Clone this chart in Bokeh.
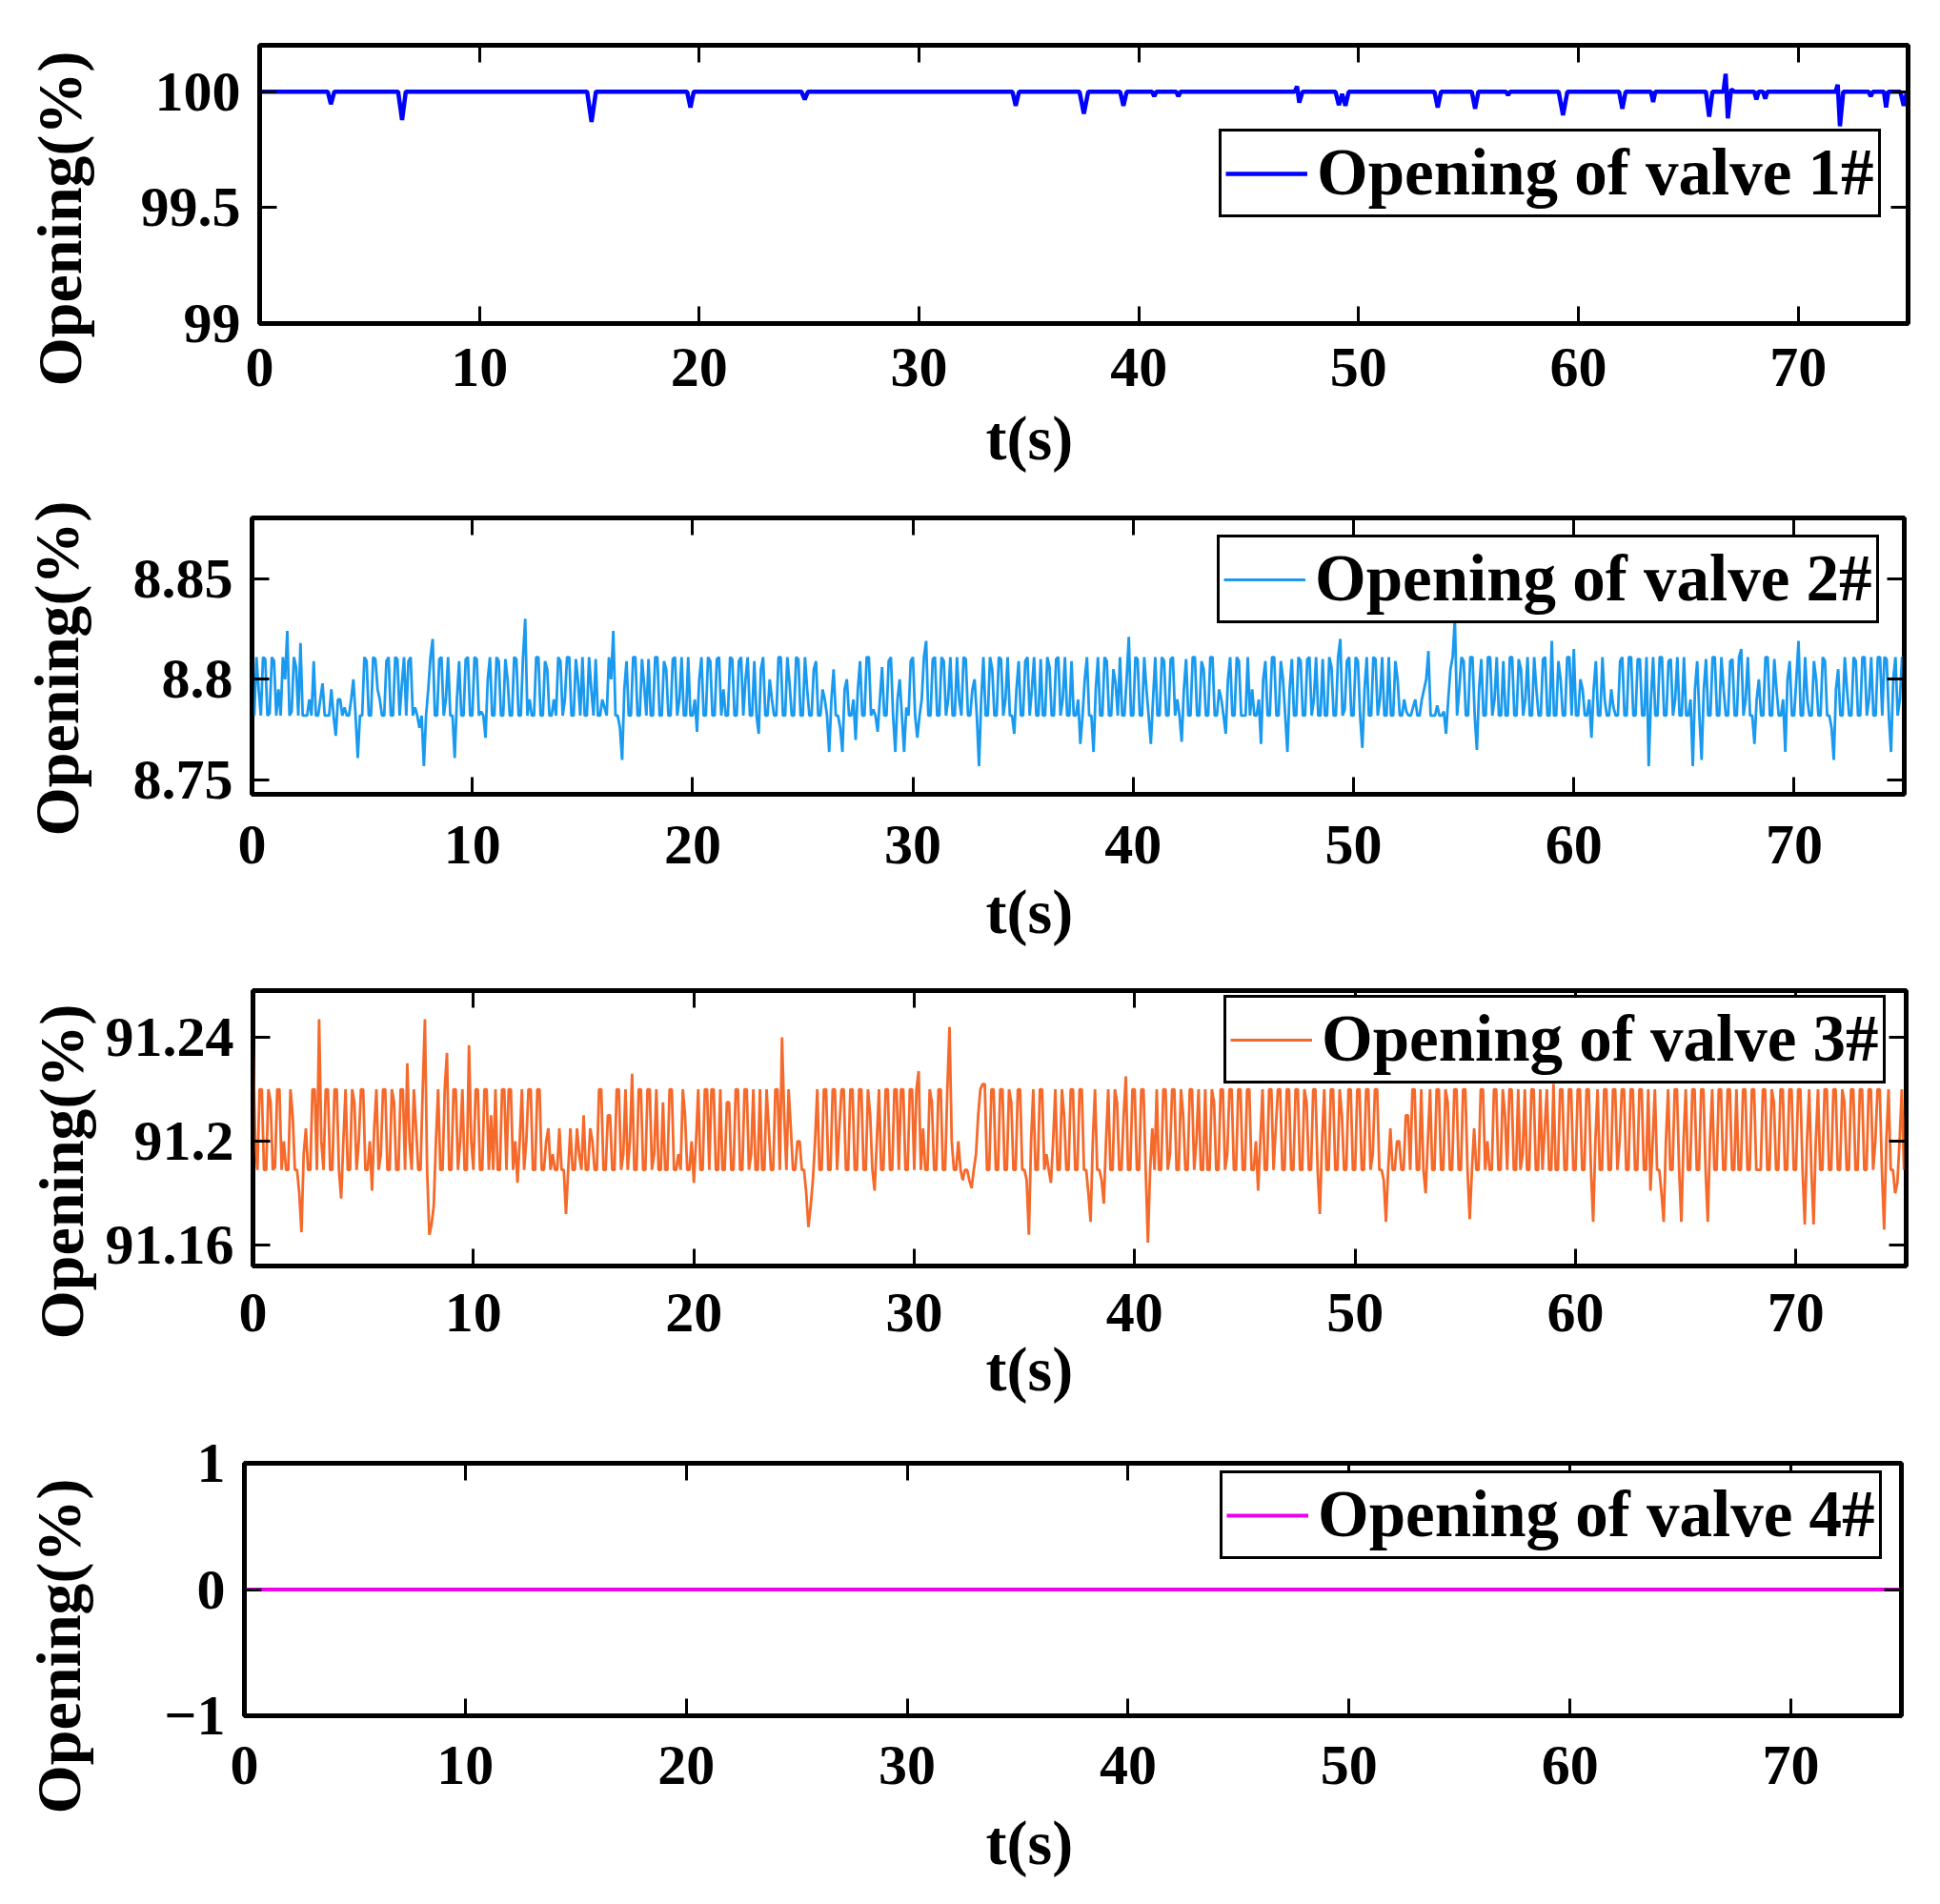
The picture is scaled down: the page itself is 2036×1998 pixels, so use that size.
from bokeh.plotting import figure
from bokeh.layouts import column
from bokeh.models import Range1d, LinearAxis, FixedTicker, Legend, LegendItem, Title
from bokeh.embed import file_html
from bokeh.resources import INLINE

FONT = "Liberation Serif"
T_END = 75.0  # last sample time (s) of valves 2# and 3# (samples are evenly spaced, ~0.1 s)

x_ticks = [0, 10, 20, 30, 40, 50, 60, 70]
x_label = "t(s)"
y_label = "Opening(%)"

# ---- valve 1# : mostly 100 % with short dips (breakpoints)
valve1_t = [0, 3.1, 3.24, 3.4, 6.3, 6.48, 6.65, 14.9, 15.1, 15.3,
            19.45, 19.6, 19.75, 24.65, 24.8, 24.95, 34.25, 34.4, 34.55,
            37.3, 37.5, 37.7, 39.15, 39.3, 39.45, 40.6, 40.7, 40.8,
            41.7, 41.8, 41.9, 47.1, 47.2, 47.3, 47.45,
            48.95, 49.1, 49.25, 49.4, 49.55, 53.45, 53.6, 53.75,
            55.15, 55.3, 55.45, 56.7, 56.8, 56.9, 59.1, 59.3, 59.5,
            61.85, 62.0, 62.15, 63.3, 63.4, 63.5, 65.8, 65.95, 66.1,
            66.6, 66.7, 66.8, 66.95, 67.1, 68.0, 68.1, 68.2, 68.4, 68.5, 68.6,
            71.7, 71.8, 71.9, 72.05, 73.2, 73.3, 73.4, 73.9, 74.0, 74.1,
            74.65, 74.8, 74.95, 75.0]
valve1_v = [100, 100, 99.946, 100, 100, 99.878, 100, 100, 99.869, 100,
            100, 99.932, 100, 100, 99.966, 100, 100, 99.939, 100,
            100, 99.905, 100, 100, 99.939, 100, 100, 99.98, 100,
            100, 99.98, 100, 100, 100.023, 99.953, 100,
            100, 99.942, 99.99, 99.939, 100, 100, 99.932, 100,
            100, 99.926, 100, 100, 99.985, 100, 100, 99.899, 100,
            100, 99.926, 100, 100, 99.955, 100, 100, 99.892, 100,
            100, 100.077, 99.885, 100.01, 100, 100, 99.966, 100, 100, 99.97, 100,
            100, 100.03, 99.851, 100, 100, 99.98, 100, 100, 99.932, 100,
            100, 99.939, 100, 100]

# ---- valve 2# : evenly sampled values (rows of 5 s)
valve2_v = [
    8.786, 8.782, 8.811, 8.795, 8.782, 8.811, 8.810, 8.782, 8.783, 8.811, 8.809, 8.782, 8.795, 8.782, 8.811, 8.800, 8.824, 8.782, 8.784, 8.811, 8.806, 8.782, 8.818, 8.782, 8.782,
    8.782, 8.790, 8.782, 8.809, 8.782, 8.782, 8.790, 8.798, 8.782, 8.782, 8.782, 8.795, 8.782, 8.772, 8.790, 8.790, 8.782, 8.786, 8.782, 8.782, 8.790, 8.800, 8.782, 8.761, 8.782,
    8.782, 8.811, 8.809, 8.782, 8.782, 8.811, 8.810, 8.795, 8.790, 8.782, 8.782, 8.809, 8.811, 8.782, 8.782, 8.811, 8.810, 8.782, 8.797, 8.811, 8.782, 8.809, 8.811, 8.782, 8.786,
    8.782, 8.776, 8.782, 8.757, 8.782, 8.795, 8.811, 8.820, 8.782, 8.782, 8.810, 8.811, 8.782, 8.790, 8.811, 8.782, 8.782, 8.761, 8.790, 8.809, 8.782, 8.782, 8.810, 8.811, 8.782,
    8.782, 8.811, 8.810, 8.782, 8.784, 8.782, 8.771, 8.800, 8.811, 8.782, 8.782, 8.811, 8.809, 8.782, 8.782, 8.810, 8.800, 8.782, 8.782, 8.811, 8.810, 8.782, 8.782, 8.811, 8.830,
    8.782, 8.790, 8.782, 8.782, 8.811, 8.811, 8.782, 8.782, 8.809, 8.805, 8.782, 8.782, 8.790, 8.782, 8.811, 8.809, 8.782, 8.790, 8.811, 8.811, 8.782, 8.782, 8.810, 8.799, 8.782,
    8.811, 8.782, 8.782, 8.811, 8.795, 8.782, 8.810, 8.782, 8.782, 8.790, 8.786, 8.782, 8.811, 8.800, 8.824, 8.782, 8.782, 8.776, 8.760, 8.795, 8.809, 8.782, 8.782, 8.811, 8.811,
    8.782, 8.782, 8.810, 8.797, 8.782, 8.810, 8.782, 8.782, 8.811, 8.811, 8.782, 8.782, 8.809, 8.805, 8.782, 8.782, 8.810, 8.811, 8.782, 8.790, 8.811, 8.782, 8.782, 8.811, 8.782,
    8.782, 8.790, 8.774, 8.800, 8.811, 8.782, 8.782, 8.811, 8.809, 8.782, 8.782, 8.810, 8.811, 8.782, 8.795, 8.782, 8.782, 8.811, 8.810, 8.782, 8.782, 8.809, 8.811, 8.782, 8.800,
    8.811, 8.782, 8.782, 8.809, 8.782, 8.773, 8.805, 8.811, 8.782, 8.782, 8.800, 8.790, 8.782, 8.782, 8.811, 8.811, 8.782, 8.782, 8.811, 8.798, 8.782, 8.782, 8.811, 8.810, 8.782,
    8.782, 8.811, 8.795, 8.782, 8.782, 8.805, 8.809, 8.782, 8.782, 8.795, 8.790, 8.782, 8.764, 8.790, 8.805, 8.782, 8.782, 8.776, 8.764, 8.795, 8.800, 8.782, 8.782, 8.790, 8.770,
    8.795, 8.809, 8.782, 8.782, 8.811, 8.811, 8.782, 8.785, 8.782, 8.774, 8.790, 8.806, 8.782, 8.782, 8.809, 8.811, 8.782, 8.764, 8.790, 8.800, 8.782, 8.764, 8.786, 8.782, 8.809,
    8.811, 8.782, 8.771, 8.782, 8.790, 8.811, 8.819, 8.782, 8.782, 8.810, 8.811, 8.782, 8.782, 8.811, 8.809, 8.782, 8.790, 8.811, 8.782, 8.782, 8.811, 8.790, 8.782, 8.811, 8.810,
    8.782, 8.782, 8.795, 8.800, 8.782, 8.757, 8.790, 8.811, 8.782, 8.782, 8.811, 8.805, 8.782, 8.782, 8.811, 8.810, 8.782, 8.790, 8.811, 8.782, 8.782, 8.773, 8.795, 8.809, 8.782,
    8.782, 8.809, 8.811, 8.782, 8.795, 8.811, 8.782, 8.782, 8.810, 8.782, 8.782, 8.811, 8.806, 8.782, 8.782, 8.810, 8.811, 8.782, 8.790, 8.811, 8.782, 8.782, 8.809, 8.782, 8.782,
    8.790, 8.768, 8.782, 8.800, 8.811, 8.782, 8.782, 8.764, 8.795, 8.811, 8.782, 8.782, 8.811, 8.809, 8.782, 8.782, 8.805, 8.798, 8.782, 8.811, 8.782, 8.782, 8.800, 8.821, 8.782,
    8.782, 8.811, 8.810, 8.782, 8.782, 8.811, 8.795, 8.782, 8.768, 8.790, 8.811, 8.782, 8.782, 8.811, 8.809, 8.782, 8.782, 8.810, 8.811, 8.782, 8.790, 8.782, 8.769, 8.795, 8.810,
    8.782, 8.782, 8.811, 8.811, 8.782, 8.782, 8.809, 8.805, 8.782, 8.782, 8.811, 8.811, 8.782, 8.782, 8.795, 8.790, 8.782, 8.773, 8.800, 8.811, 8.782, 8.782, 8.811, 8.809, 8.782,
    8.782, 8.782, 8.811, 8.782, 8.795, 8.782, 8.782, 8.790, 8.768, 8.800, 8.809, 8.782, 8.782, 8.811, 8.811, 8.782, 8.782, 8.809, 8.800, 8.782, 8.764, 8.795, 8.810, 8.782, 8.782,
    8.811, 8.809, 8.782, 8.782, 8.810, 8.811, 8.782, 8.790, 8.811, 8.782, 8.782, 8.810, 8.782, 8.782, 8.811, 8.806, 8.782, 8.782, 8.811, 8.820, 8.782, 8.785, 8.809, 8.811, 8.782,
    8.782, 8.811, 8.809, 8.782, 8.766, 8.795, 8.811, 8.782, 8.782, 8.811, 8.810, 8.782, 8.790, 8.811, 8.782, 8.782, 8.811, 8.782, 8.782, 8.809, 8.800, 8.782, 8.782, 8.790, 8.784,
    8.782, 8.782, 8.786, 8.790, 8.782, 8.782, 8.790, 8.795, 8.800, 8.814, 8.782, 8.782, 8.782, 8.787, 8.782, 8.782, 8.784, 8.773, 8.790, 8.805, 8.811, 8.830, 8.782, 8.795, 8.811,
    8.809, 8.782, 8.782, 8.811, 8.811, 8.782, 8.765, 8.795, 8.810, 8.782, 8.782, 8.811, 8.811, 8.782, 8.790, 8.811, 8.782, 8.782, 8.809, 8.782, 8.782, 8.811, 8.811, 8.782, 8.782,
    8.810, 8.805, 8.782, 8.790, 8.811, 8.782, 8.782, 8.811, 8.795, 8.782, 8.782, 8.810, 8.811, 8.782, 8.782, 8.819, 8.782, 8.782, 8.809, 8.800, 8.782, 8.782, 8.811, 8.811, 8.782,
    8.815, 8.782, 8.782, 8.800, 8.795, 8.782, 8.782, 8.790, 8.771, 8.795, 8.809, 8.782, 8.782, 8.811, 8.790, 8.782, 8.782, 8.795, 8.786, 8.782, 8.782, 8.809, 8.811, 8.782, 8.782,
    8.811, 8.811, 8.782, 8.782, 8.810, 8.810, 8.782, 8.782, 8.811, 8.757, 8.790, 8.811, 8.782, 8.782, 8.811, 8.811, 8.782, 8.782, 8.809, 8.810, 8.782, 8.790, 8.811, 8.782, 8.782,
    8.811, 8.782, 8.782, 8.790, 8.757, 8.795, 8.809, 8.782, 8.760, 8.795, 8.810, 8.782, 8.782, 8.811, 8.811, 8.782, 8.782, 8.811, 8.795, 8.782, 8.782, 8.809, 8.810, 8.782, 8.782,
    8.811, 8.815, 8.782, 8.790, 8.811, 8.782, 8.782, 8.768, 8.790, 8.800, 8.782, 8.782, 8.811, 8.811, 8.782, 8.782, 8.810, 8.795, 8.782, 8.782, 8.790, 8.764, 8.800, 8.809, 8.782,
    8.782, 8.800, 8.819, 8.782, 8.782, 8.811, 8.790, 8.782, 8.782, 8.809, 8.800, 8.782, 8.782, 8.811, 8.809, 8.782, 8.782, 8.776, 8.760, 8.795, 8.805, 8.782, 8.782, 8.811, 8.795,
    8.782, 8.782, 8.811, 8.809, 8.782, 8.782, 8.811, 8.811, 8.782, 8.790, 8.811, 8.782, 8.782, 8.811, 8.811, 8.782, 8.811, 8.810, 8.782, 8.764, 8.800, 8.811, 8.782, 8.790, 8.811,
    8.811]

# ---- valve 3# : evenly sampled values (rows of 5 s)
valve3_v = [
    91.240, 91.200, 91.189, 91.220, 91.220, 91.189, 91.189, 91.220, 91.215, 91.189, 91.190, 91.220, 91.220, 91.189, 91.200, 91.189, 91.189, 91.220, 91.210, 91.189, 91.189, 91.180, 91.165, 91.195, 91.205,
    91.189, 91.189, 91.220, 91.220, 91.189, 91.247, 91.200, 91.189, 91.220, 91.220, 91.189, 91.189, 91.220, 91.220, 91.189, 91.178, 91.200, 91.220, 91.189, 91.189, 91.220, 91.215, 91.189, 91.200, 91.220,
    91.220, 91.189, 91.189, 91.200, 91.181, 91.205, 91.220, 91.189, 91.195, 91.220, 91.220, 91.189, 91.189, 91.220, 91.215, 91.189, 91.189, 91.220, 91.220, 91.189, 91.230, 91.200, 91.189, 91.220, 91.205,
    91.189, 91.189, 91.220, 91.247, 91.189, 91.164, 91.168, 91.175, 91.200, 91.220, 91.189, 91.189, 91.220, 91.234, 91.189, 91.189, 91.220, 91.220, 91.189, 91.200, 91.220, 91.189, 91.189, 91.237, 91.200,
    91.189, 91.220, 91.220, 91.189, 91.189, 91.220, 91.220, 91.189, 91.210, 91.189, 91.220, 91.189, 91.189, 91.220, 91.220, 91.189, 91.220, 91.220, 91.189, 91.200, 91.184, 91.200, 91.220, 91.189, 91.200,
    91.220, 91.220, 91.189, 91.189, 91.220, 91.220, 91.189, 91.189, 91.200, 91.205, 91.189, 91.195, 91.189, 91.189, 91.205, 91.189, 91.189, 91.172, 91.189, 91.205, 91.189, 91.189, 91.205, 91.195, 91.189,
    91.210, 91.189, 91.189, 91.205, 91.200, 91.189, 91.189, 91.220, 91.220, 91.189, 91.189, 91.210, 91.210, 91.189, 91.189, 91.220, 91.220, 91.189, 91.195, 91.220, 91.189, 91.200, 91.226, 91.189, 91.189,
    91.220, 91.220, 91.189, 91.189, 91.220, 91.220, 91.189, 91.195, 91.220, 91.189, 91.189, 91.215, 91.189, 91.189, 91.220, 91.220, 91.189, 91.189, 91.195, 91.189, 91.220, 91.210, 91.189, 91.189, 91.200,
    91.184, 91.200, 91.220, 91.189, 91.189, 91.220, 91.220, 91.189, 91.220, 91.220, 91.189, 91.189, 91.220, 91.189, 91.189, 91.215, 91.215, 91.189, 91.189, 91.220, 91.220, 91.189, 91.189, 91.220, 91.220,
    91.189, 91.195, 91.220, 91.189, 91.189, 91.220, 91.189, 91.189, 91.220, 91.205, 91.189, 91.189, 91.220, 91.220, 91.189, 91.240, 91.210, 91.189, 91.220, 91.205, 91.189, 91.189, 91.200, 91.200, 91.189,
    91.189, 91.180, 91.167, 91.175, 91.185, 91.200, 91.220, 91.189, 91.189, 91.220, 91.220, 91.189, 91.189, 91.220, 91.220, 91.189, 91.205, 91.220, 91.220, 91.189, 91.189, 91.220, 91.220, 91.189, 91.189,
    91.220, 91.220, 91.189, 91.189, 91.220, 91.210, 91.189, 91.181, 91.200, 91.220, 91.189, 91.189, 91.220, 91.220, 91.189, 91.189, 91.220, 91.220, 91.189, 91.220, 91.220, 91.189, 91.189, 91.220, 91.220,
    91.189, 91.220, 91.227, 91.189, 91.205, 91.189, 91.189, 91.220, 91.215, 91.189, 91.189, 91.220, 91.220, 91.189, 91.189, 91.220, 91.244, 91.200, 91.189, 91.189, 91.200, 91.189, 91.185, 91.189, 91.189,
    91.185, 91.182, 91.189, 91.195, 91.210, 91.220, 91.222, 91.222, 91.189, 91.189, 91.220, 91.220, 91.189, 91.189, 91.220, 91.220, 91.189, 91.189, 91.220, 91.215, 91.189, 91.189, 91.220, 91.220, 91.189,
    91.189, 91.185, 91.164, 91.200, 91.220, 91.189, 91.189, 91.220, 91.220, 91.189, 91.195, 91.189, 91.184, 91.200, 91.220, 91.189, 91.189, 91.220, 91.210, 91.189, 91.189, 91.220, 91.220, 91.189, 91.189,
    91.220, 91.220, 91.189, 91.189, 91.180, 91.169, 91.200, 91.220, 91.189, 91.189, 91.185, 91.176, 91.200, 91.220, 91.189, 91.189, 91.220, 91.215, 91.189, 91.189, 91.210, 91.225, 91.189, 91.189, 91.220,
    91.220, 91.189, 91.189, 91.220, 91.220, 91.189, 91.161, 91.189, 91.205, 91.189, 91.220, 91.189, 91.189, 91.220, 91.220, 91.189, 91.195, 91.220, 91.220, 91.189, 91.189, 91.220, 91.210, 91.189, 91.189,
    91.220, 91.220, 91.189, 91.200, 91.220, 91.189, 91.189, 91.220, 91.189, 91.189, 91.220, 91.215, 91.189, 91.189, 91.220, 91.220, 91.189, 91.195, 91.220, 91.220, 91.189, 91.189, 91.220, 91.220, 91.189,
    91.189, 91.220, 91.220, 91.189, 91.189, 91.200, 91.181, 91.200, 91.220, 91.189, 91.189, 91.220, 91.220, 91.189, 91.205, 91.220, 91.220, 91.189, 91.189, 91.220, 91.220, 91.189, 91.189, 91.220, 91.220,
    91.189, 91.189, 91.220, 91.215, 91.189, 91.189, 91.220, 91.220, 91.189, 91.172, 91.200, 91.220, 91.189, 91.189, 91.220, 91.220, 91.189, 91.189, 91.220, 91.210, 91.189, 91.189, 91.220, 91.220, 91.189,
    91.189, 91.220, 91.220, 91.189, 91.189, 91.220, 91.220, 91.189, 91.195, 91.220, 91.220, 91.189, 91.189, 91.185, 91.169, 91.189, 91.205, 91.189, 91.189, 91.200, 91.200, 91.189, 91.189, 91.210, 91.210,
    91.189, 91.220, 91.220, 91.189, 91.189, 91.220, 91.189, 91.180, 91.200, 91.220, 91.189, 91.189, 91.220, 91.220, 91.189, 91.189, 91.220, 91.215, 91.189, 91.189, 91.220, 91.220, 91.189, 91.189, 91.220,
    91.220, 91.189, 91.170, 91.189, 91.205, 91.189, 91.189, 91.220, 91.220, 91.189, 91.200, 91.189, 91.189, 91.220, 91.220, 91.189, 91.189, 91.220, 91.210, 91.189, 91.220, 91.220, 91.189, 91.189, 91.220,
    91.189, 91.195, 91.220, 91.189, 91.189, 91.220, 91.220, 91.189, 91.189, 91.220, 91.189, 91.205, 91.220, 91.189, 91.189, 91.222, 91.189, 91.189, 91.220, 91.220, 91.189, 91.189, 91.220, 91.220, 91.189,
    91.189, 91.220, 91.220, 91.189, 91.189, 91.220, 91.220, 91.189, 91.169, 91.200, 91.220, 91.189, 91.189, 91.220, 91.220, 91.189, 91.189, 91.220, 91.220, 91.189, 91.200, 91.220, 91.220, 91.189, 91.189,
    91.220, 91.220, 91.189, 91.189, 91.220, 91.220, 91.189, 91.189, 91.220, 91.181, 91.200, 91.220, 91.189, 91.189, 91.180, 91.169, 91.200, 91.220, 91.189, 91.189, 91.220, 91.220, 91.189, 91.169, 91.200,
    91.220, 91.189, 91.189, 91.220, 91.220, 91.189, 91.189, 91.220, 91.220, 91.189, 91.169, 91.200, 91.220, 91.189, 91.189, 91.220, 91.220, 91.189, 91.189, 91.220, 91.220, 91.189, 91.189, 91.220, 91.189,
    91.189, 91.220, 91.220, 91.189, 91.189, 91.220, 91.220, 91.189, 91.189, 91.189, 91.220, 91.220, 91.189, 91.189, 91.220, 91.215, 91.189, 91.189, 91.220, 91.220, 91.189, 91.189, 91.220, 91.220, 91.189,
    91.189, 91.220, 91.220, 91.189, 91.168, 91.200, 91.220, 91.189, 91.168, 91.200, 91.220, 91.189, 91.189, 91.220, 91.220, 91.189, 91.189, 91.220, 91.220, 91.189, 91.189, 91.220, 91.215, 91.189, 91.189,
    91.220, 91.220, 91.189, 91.189, 91.220, 91.220, 91.189, 91.189, 91.220, 91.220, 91.189, 91.200, 91.220, 91.220, 91.189, 91.166, 91.200, 91.220, 91.189, 91.189, 91.180, 91.184, 91.200, 91.220, 91.189,
    91.220]

# ---- valve 4# : closed the whole time
valve4_t = [0, 75]
valve4_v = [0, 0]

valve2_t = [T_END * i / (len(valve2_v) - 1) for i in range(len(valve2_v))]
valve3_t = [T_END * i / (len(valve3_v) - 1) for i in range(len(valve3_v))]

panels = [
    dict(t=valve1_t, v=valve1_v, color="#0000FF", lw=4.5, name="Opening of valve 1#",
         y0=99.0, y1=100.2, yticks=[99, 99.5, 100], ylabels=["99", "99.5", "100"]),
    dict(t=valve2_t, v=valve2_v, color="#1A9AEF", lw=2.8, name="Opening of valve 2#",
         y0=8.743, y1=8.880, yticks=[8.75, 8.8, 8.85], ylabels=["8.75", "8.8", "8.85"]),
    dict(t=valve3_t, v=valve3_v, color="#F5692A", lw=2.8, name="Opening of valve 3#",
         y0=91.152, y1=91.258, yticks=[91.16, 91.2, 91.24], ylabels=["91.16", "91.2", "91.24"]),
    dict(t=valve4_t, v=valve4_v, color="#EE00EE", lw=4, name="Opening of valve 4#",
         y0=-1, y1=1, yticks=[-1, 0, 1], ylabels=["\u22121", "0", "1"]),
]

# layout geometry in pixels: frame size, borders, tick-label standoff, legend offset,
# y-title spacer / offset, x-title spacer / offset
geom = [
    dict(fw=1730, fh=292, bl=272, br=32, bt=47, bb=171, xs=26, leg=(1007, 111),
         ysp=41, yo=-66, xsp=15, xo=762),
    dict(fw=1734, fh=290, bl=264, br=36, bt=33, bb=177, xs=33, leg=(1013, 179),
         ysp=36, yo=-44, xsp=11, xo=770),
    dict(fw=1735, fh=289, bl=265, br=34, bt=29, bb=170, xs=29, leg=(1019, 191),
         ysp=2, yo=-77, xsp=0, xo=769),
    dict(fw=1739, fh=265, bl=256, br=39, bt=37, bb=196, xs=32, leg=(1024, 164),
         ysp=67, yo=-103, xsp=22, xo=778),
]


def style_axis(ax, show_labels, standoff):
    ax.axis_line_width = 4
    ax.axis_line_color = "black"
    ax.major_tick_line_width = 3
    ax.major_tick_line_color = "black"
    ax.major_tick_in = 18
    ax.major_tick_out = 0
    ax.minor_tick_line_color = None
    ax.major_label_text_font = FONT
    ax.major_label_text_font_style = "bold"
    if show_labels:
        ax.major_label_text_color = "black"
        ax.major_label_text_font_size = "60px"
        ax.major_label_standoff = standoff
    else:
        ax.major_label_text_color = None
        ax.major_label_text_font_size = "1px"
        ax.major_label_standoff = standoff


def spacer_axis(ticks, width):
    # axis with white outward ticks and no labels: only reserves room before a title
    ax = LinearAxis(ticker=FixedTicker(ticks=ticks))
    ax.axis_line_color = None
    ax.minor_tick_line_color = None
    ax.major_tick_line_color = "white"
    ax.major_tick_line_width = 1
    ax.major_tick_in = 0
    ax.major_tick_out = width
    ax.major_label_text_color = None
    ax.major_label_text_font_size = "1px"
    ax.major_label_standoff = 0
    return ax


figs = []
for pd_, g in zip(panels, geom):
    p = figure(frame_width=g["fw"], frame_height=g["fh"],
               min_border_left=g["bl"], min_border_right=g["br"],
               min_border_top=g["bt"], min_border_bottom=g["bb"],
               x_range=Range1d(0, 75), y_range=Range1d(pd_["y0"], pd_["y1"]),
               output_backend="svg", toolbar_location=None,
               background_fill_color="white", border_fill_color="white")
    p.grid.visible = False
    p.outline_line_color = "black"
    p.outline_line_width = 5
    p.outline_line_alpha = 1.0

    p.xaxis.ticker = FixedTicker(ticks=x_ticks)
    p.yaxis.ticker = FixedTicker(ticks=pd_["yticks"])
    p.yaxis.major_label_overrides = {t: s for t, s in zip(pd_["yticks"], pd_["ylabels"])}
    style_axis(p.xaxis[0], True, g["xs"])
    style_axis(p.yaxis[0], True, 20)

    top_ax = LinearAxis(ticker=FixedTicker(ticks=x_ticks))
    right_ax = LinearAxis(ticker=FixedTicker(ticks=pd_["yticks"]))
    style_axis(top_ax, False, 0)
    style_axis(right_ax, False, 0)
    p.add_layout(top_ax, "above")
    p.add_layout(right_ax, "right")

    r = p.line(pd_["t"], pd_["v"], line_color=pd_["color"], line_width=pd_["lw"])

    leg = Legend(items=[LegendItem(label=pd_["name"], renderers=[r])],
                 location=g["leg"], orientation="vertical")
    leg.label_text_font = FONT
    leg.label_text_font_style = "bold"
    leg.label_text_font_size = "69px"
    leg.label_text_color = "black"
    leg.glyph_width = 86
    leg.glyph_height = 40
    leg.label_standoff = 10
    leg.padding = 4
    leg.spacing = 0
    leg.margin = 0
    leg.border_line_color = "black"
    leg.border_line_width = 3
    leg.border_line_alpha = 1.0
    leg.background_fill_color = "white"
    leg.background_fill_alpha = 1.0
    p.add_layout(leg, "center")

    # y title: spacer axis, then the rotated title
    p.add_layout(spacer_axis(pd_["yticks"], g["ysp"]), "left")
    p.add_layout(Title(text=y_label, align="left", offset=g["yo"], standoff=10,
                       vertical_align="bottom",
                       text_font=FONT, text_font_style="bold", text_font_size="66px",
                       text_color="black"), "left")
    # x title
    if g["xsp"] > 0:
        p.add_layout(spacer_axis(x_ticks, g["xsp"]), "below")
    p.add_layout(Title(text=x_label, align="left", offset=g["xo"], standoff=0,
                       vertical_align="top",
                       text_font=FONT, text_font_style="bold", text_font_size="66px",
                       text_color="black"), "below")
    figs.append(p)

# each plot in its own column so that the frames are not forced into alignment
layout = column(*[column(f, spacing=0) for f in figs], spacing=0)
open("out.html", "w").write(file_html(layout, INLINE))
